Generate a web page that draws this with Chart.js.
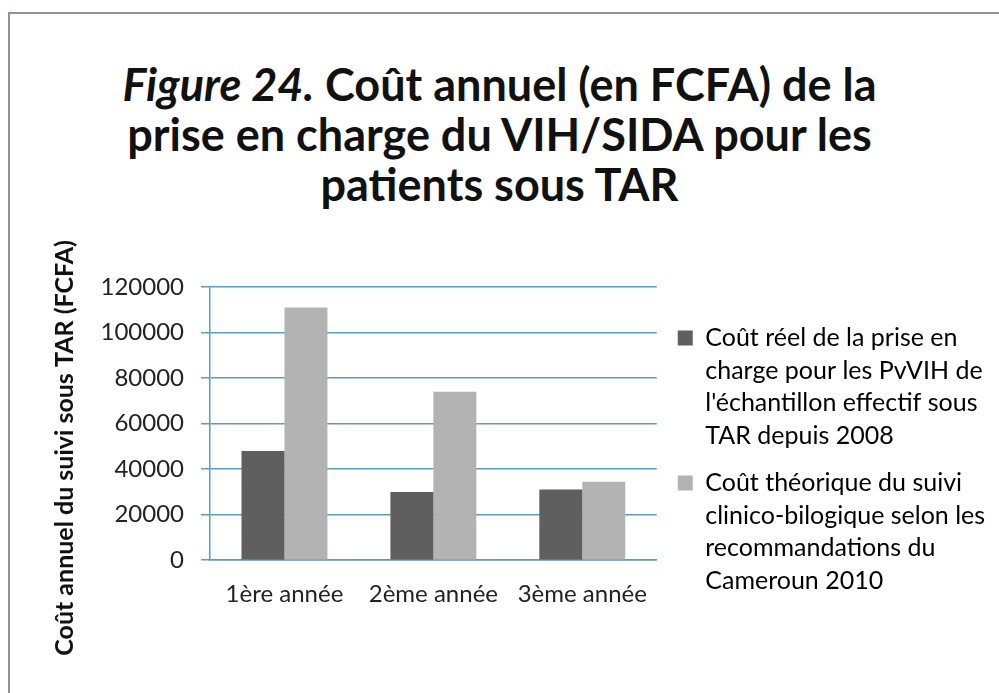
<!DOCTYPE html>
<html lang="fr">
<head>
<meta charset="UTF-8">
<title>Figure 24</title>
<script src="https://cdn.jsdelivr.net/npm/chart.js"></script>
<style>
  html, body { margin: 0; padding: 0; background: #fff; }
  #wrap { position: relative; width: 999px; height: 693px; overflow: hidden; }
  #frame { position: absolute; left: 8px; top: 12px; width: 1000px; height: 690px;
           border-left: 2px solid #8a969c; border-top: 2px solid #8a969c; box-sizing: border-box; }
  #titre { position: absolute; left: 0; top: 59px; width: 999px; text-align: center;
           font-family: Lato, sans-serif; font-weight: bold; font-size: 45px; line-height: 50px; color: #111; }
  canvas { position: absolute; left: 0; top: 0; }
</style>
</head>
<body>
<div id="wrap">
  <div id="frame"></div>
  <div id="titre"><i>Figure 24.</i> Coût annuel (en FCFA) de la<br>prise en charge du VIH/SIDA pour les<br>patients sous TAR</div>
  <canvas id="graphique" width="999" height="693"></canvas>
</div>

<script>
  const annees = ['1ère année', '2ème année', '3ème année'];
  const coutReel = [48000, 30000, 31000];
  const coutTheorique = [111000, 74000, 34500];
  const legendeReel = ['Coût réel de la prise en', 'charge pour les PvVIH de', "l'échantillon effectif sous", 'TAR depuis 2008'];
  const legendeTheorique = ['Coût théorique du suivi', 'clinico-bilogique selon les', 'recommandations du', 'Cameroun 2010'];

  const bleu = '#5b9dba';
  const police = 'Lato, sans-serif';

  // la légende est limitée en largeur par Chart.js : on l'élargit jusqu'au bord et on la descend un peu
  const placerLegende = {
    id: 'placerLegende',
    afterLayout(chart) {
      const l = chart.legend;
      l.left += 6;
      l.right = chart.width;
      l.width = l.right - l.left;
      l.top += 5; l.bottom += 5;
    }
  };

  const ctx = document.getElementById('graphique').getContext('2d');

  new Chart(ctx, {
    type: 'bar',
    data: {
      labels: annees,
      datasets: [
        { label: legendeReel.join(' '), lignes: legendeReel, data: coutReel, backgroundColor: '#5f5f5f' },
        { label: legendeTheorique.join(' '), lignes: legendeTheorique, data: coutTheorique, backgroundColor: '#b3b3b3' }
      ]
    },
    plugins: [placerLegende],
    options: {
      responsive: false,
      animation: false,
      layout: { padding: { top: 287, left: 50, right: 140, bottom: 64 } },
      datasets: { bar: { categoryPercentage: 0.577, barPercentage: 1.0 } },
      plugins: {
        tooltip: { enabled: false },
        legend: {
          position: 'right',
          align: 'center',
          labels: {
            font: { family: police, size: 25, lineHeight: 1.3 },
            color: '#222',
            boxWidth: 15,
            boxHeight: 15,
            padding: 15,
            generateLabels: function(chart) {
              return chart.data.datasets.map((ds, i) => ({
                text: ds.lignes,
                fillStyle: ds.backgroundColor,
                strokeStyle: ds.backgroundColor,
                lineWidth: 0,
                datasetIndex: i,
                hidden: false
              }));
            }
          }
        }
      },
      scales: {
        x: {
          grid: { display: false, drawTicks: false },
          border: { color: bleu, width: 1.5 },
          ticks: { font: { family: police, size: 24 }, color: '#222', padding: 20 }
        },
        y: {
          min: 0,
          max: 120000,
          ticks: {
            stepSize: 20000,
            font: { family: police, size: 24 },
            color: '#222',
            padding: 17,
            callback: v => String(v)
          },
          grid: { color: bleu, lineWidth: 1.5, tickLength: 9 },
          border: { color: bleu, width: 1.5 },
          title: {
            display: true,
            // espaces insécables en fin de texte pour descendre le titre comme sur l'original
            text: 'Coût annuel du suivi sous TAR (FCFA)' + '\u00a0'.repeat(8),
            font: { family: police, size: 25, weight: 'bold' },
            color: '#111',
            padding: 0
          },
          afterFit: function(scale) { scale.width = 160; }
        }
      }
    }
  });
</script>
</body>
</html>
